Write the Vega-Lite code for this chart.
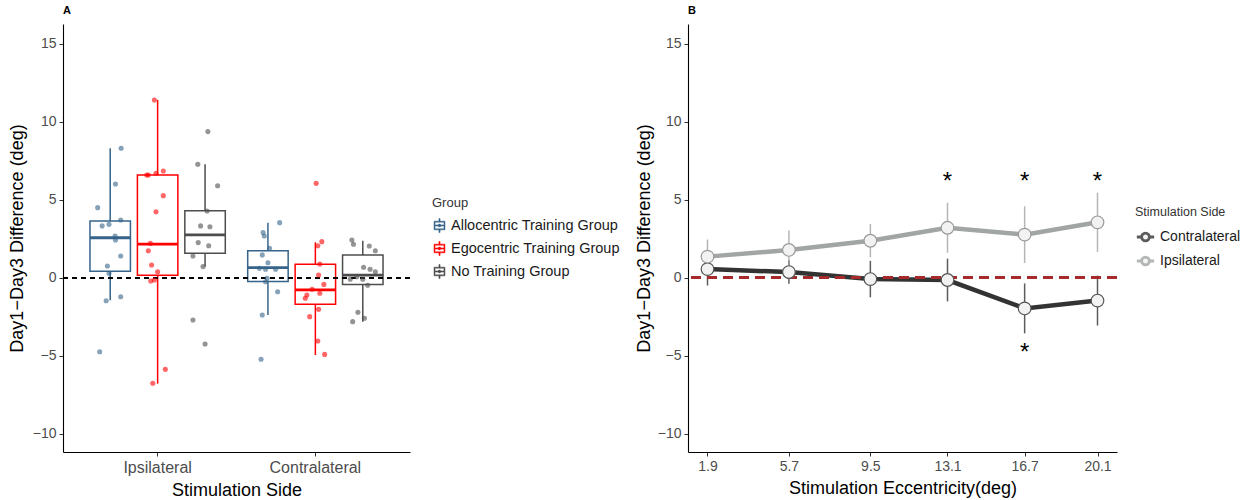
{
  "$schema": "https://vega.github.io/schema/vega-lite/v6.json",
  "background": "white",
  "padding": {"left": 8, "top": 5, "right": 5, "bottom": 5},
  "spacing": 15,
  "config": {
    "font": "Liberation Sans",
    "view": {"stroke": null},
    "axis": {"grid": false, "domainColor": "#000000", "domainWidth": 1.1, "tickColor": "#333333", "tickSize": 4, "labelColor": "#4D4D4D", "labelFontSize": 14, "titleFontSize": 18, "titleFontWeight": "normal", "titleColor": "#000000", "labelPadding": 3, "titlePadding": 6},
    "legend": {"layout": {"right": {"anchor": "middle"}}, "titleFontWeight": "normal", "titleColor": "#333333", "labelColor": "#1A1A1A", "labelFontSize": 14, "titleFontSize": 13, "padding": 0, "labelLimit": 400},
    "title": {"anchor": "start", "frame": "group", "fontSize": 11, "fontWeight": "bold", "offset": 8}
  },
  "datasets": {
    "box": [
      {"side": "Ipsilateral", "group": "Allocentric Training Group", "lower": -1.45, "q1": 0.42, "median": 2.56, "q3": 3.64, "upper": 8.3},
      {"side": "Ipsilateral", "group": "Egocentric Training Group", "lower": -6.8, "q1": 0.15, "median": 2.15, "q3": 6.59, "upper": 11.4},
      {"side": "Ipsilateral", "group": "No Training Group", "lower": 0.71, "q1": 1.56, "median": 2.74, "q3": 4.3, "upper": 7.27},
      {"side": "Contralateral", "group": "Allocentric Training Group", "lower": -2.39, "q1": -0.25, "median": 0.65, "q3": 1.73, "upper": 3.53},
      {"side": "Contralateral", "group": "Egocentric Training Group", "lower": -4.96, "q1": -1.71, "median": -0.78, "q3": 0.86, "upper": 2.27},
      {"side": "Contralateral", "group": "No Training Group", "lower": -2.82, "q1": -0.43, "median": 0.17, "q3": 1.46, "upper": 2.37}
    ],
    "pts": [
      {"side": "Ipsilateral", "group": "Allocentric Training Group", "value": 8.3, "jit": 0.27},
      {"side": "Ipsilateral", "group": "Allocentric Training Group", "value": 6.01, "jit": 0.13},
      {"side": "Ipsilateral", "group": "Allocentric Training Group", "value": 4.49, "jit": -0.31},
      {"side": "Ipsilateral", "group": "Allocentric Training Group", "value": 3.32, "jit": -0.2},
      {"side": "Ipsilateral", "group": "Allocentric Training Group", "value": 3.42, "jit": -0.03},
      {"side": "Ipsilateral", "group": "Allocentric Training Group", "value": 3.7, "jit": 0.26},
      {"side": "Ipsilateral", "group": "Allocentric Training Group", "value": 2.67, "jit": 0.12},
      {"side": "Ipsilateral", "group": "Allocentric Training Group", "value": 2.42, "jit": 0.13},
      {"side": "Ipsilateral", "group": "Allocentric Training Group", "value": 1.39, "jit": 0.26},
      {"side": "Ipsilateral", "group": "Allocentric Training Group", "value": 0.75, "jit": -0.07},
      {"side": "Ipsilateral", "group": "Allocentric Training Group", "value": 0.28, "jit": -0.03},
      {"side": "Ipsilateral", "group": "Allocentric Training Group", "value": -1.48, "jit": -0.1},
      {"side": "Ipsilateral", "group": "Allocentric Training Group", "value": -1.22, "jit": 0.26},
      {"side": "Ipsilateral", "group": "Allocentric Training Group", "value": -4.75, "jit": -0.26},
      {"side": "Ipsilateral", "group": "Egocentric Training Group", "value": 11.4, "jit": -0.08},
      {"side": "Ipsilateral", "group": "Egocentric Training Group", "value": 6.59, "jit": -0.27},
      {"side": "Ipsilateral", "group": "Egocentric Training Group", "value": 6.59, "jit": -0.23},
      {"side": "Ipsilateral", "group": "Egocentric Training Group", "value": 6.7, "jit": -0.04},
      {"side": "Ipsilateral", "group": "Egocentric Training Group", "value": 6.84, "jit": 0.14},
      {"side": "Ipsilateral", "group": "Egocentric Training Group", "value": 5.26, "jit": 0.14},
      {"side": "Ipsilateral", "group": "Egocentric Training Group", "value": 4.23, "jit": -0.04},
      {"side": "Ipsilateral", "group": "Egocentric Training Group", "value": 2.2, "jit": -0.18},
      {"side": "Ipsilateral", "group": "Egocentric Training Group", "value": 1.73, "jit": -0.23},
      {"side": "Ipsilateral", "group": "Egocentric Training Group", "value": 0.81, "jit": -0.15},
      {"side": "Ipsilateral", "group": "Egocentric Training Group", "value": 0.38, "jit": 0},
      {"side": "Ipsilateral", "group": "Egocentric Training Group", "value": -0.21, "jit": -0.17},
      {"side": "Ipsilateral", "group": "Egocentric Training Group", "value": -0.15, "jit": -0.08},
      {"side": "Ipsilateral", "group": "Egocentric Training Group", "value": -5.88, "jit": 0.19},
      {"side": "Ipsilateral", "group": "Egocentric Training Group", "value": -6.77, "jit": -0.12},
      {"side": "Ipsilateral", "group": "No Training Group", "value": 9.37, "jit": 0.07},
      {"side": "Ipsilateral", "group": "No Training Group", "value": 7.27, "jit": -0.18},
      {"side": "Ipsilateral", "group": "No Training Group", "value": 5.9, "jit": 0.31},
      {"side": "Ipsilateral", "group": "No Training Group", "value": 4.28, "jit": 0.05},
      {"side": "Ipsilateral", "group": "No Training Group", "value": 3.32, "jit": -0.11},
      {"side": "Ipsilateral", "group": "No Training Group", "value": 3.27, "jit": 0.12},
      {"side": "Ipsilateral", "group": "No Training Group", "value": 2.25, "jit": -0.17},
      {"side": "Ipsilateral", "group": "No Training Group", "value": 2.05, "jit": 0.09},
      {"side": "Ipsilateral", "group": "No Training Group", "value": 1.39, "jit": -0.3},
      {"side": "Ipsilateral", "group": "No Training Group", "value": 0.71, "jit": -0.05},
      {"side": "Ipsilateral", "group": "No Training Group", "value": -2.71, "jit": -0.3},
      {"side": "Ipsilateral", "group": "No Training Group", "value": -4.25, "jit": 0},
      {"side": "Contralateral", "group": "Allocentric Training Group", "value": 3.53, "jit": 0.29},
      {"side": "Contralateral", "group": "Allocentric Training Group", "value": 2.89, "jit": -0.12},
      {"side": "Contralateral", "group": "Allocentric Training Group", "value": 2.67, "jit": -0.09},
      {"side": "Contralateral", "group": "Allocentric Training Group", "value": 1.89, "jit": 0.04},
      {"side": "Contralateral", "group": "Allocentric Training Group", "value": 1.46, "jit": -0.14},
      {"side": "Contralateral", "group": "Allocentric Training Group", "value": 0.96, "jit": 0},
      {"side": "Contralateral", "group": "Allocentric Training Group", "value": 0.6, "jit": -0.21},
      {"side": "Contralateral", "group": "Allocentric Training Group", "value": 0.54, "jit": -0.06},
      {"side": "Contralateral", "group": "Allocentric Training Group", "value": 0.54, "jit": 0.19},
      {"side": "Contralateral", "group": "Allocentric Training Group", "value": -0.04, "jit": -0.02},
      {"side": "Contralateral", "group": "Allocentric Training Group", "value": -0.26, "jit": -0.06},
      {"side": "Contralateral", "group": "Allocentric Training Group", "value": -0.9, "jit": 0.24},
      {"side": "Contralateral", "group": "Allocentric Training Group", "value": -2.39, "jit": -0.14},
      {"side": "Contralateral", "group": "Allocentric Training Group", "value": -5.23, "jit": -0.17},
      {"side": "Contralateral", "group": "Egocentric Training Group", "value": 6.05, "jit": 0.02},
      {"side": "Contralateral", "group": "Egocentric Training Group", "value": 2.31, "jit": 0.16},
      {"side": "Contralateral", "group": "Egocentric Training Group", "value": 2.05, "jit": 0.06},
      {"side": "Contralateral", "group": "Egocentric Training Group", "value": 0.88, "jit": 0.11},
      {"side": "Contralateral", "group": "Egocentric Training Group", "value": 0.17, "jit": 0.08},
      {"side": "Contralateral", "group": "Egocentric Training Group", "value": -0.43, "jit": 0.21},
      {"side": "Contralateral", "group": "Egocentric Training Group", "value": -0.74, "jit": -0.08},
      {"side": "Contralateral", "group": "Egocentric Training Group", "value": -1.11, "jit": -0.21},
      {"side": "Contralateral", "group": "Egocentric Training Group", "value": -1.32, "jit": -0.25},
      {"side": "Contralateral", "group": "Egocentric Training Group", "value": -1.0, "jit": 0.11},
      {"side": "Contralateral", "group": "Egocentric Training Group", "value": -2.03, "jit": 0.08},
      {"side": "Contralateral", "group": "Egocentric Training Group", "value": -2.5, "jit": -0.14},
      {"side": "Contralateral", "group": "Egocentric Training Group", "value": -4.06, "jit": 0.06},
      {"side": "Contralateral", "group": "Egocentric Training Group", "value": -4.92, "jit": 0.23},
      {"side": "Contralateral", "group": "No Training Group", "value": 2.42, "jit": -0.27},
      {"side": "Contralateral", "group": "No Training Group", "value": 2.14, "jit": -0.23},
      {"side": "Contralateral", "group": "No Training Group", "value": 2.03, "jit": 0.16},
      {"side": "Contralateral", "group": "No Training Group", "value": 1.73, "jit": 0.31},
      {"side": "Contralateral", "group": "No Training Group", "value": 0.67, "jit": 0.02},
      {"side": "Contralateral", "group": "No Training Group", "value": 0.54, "jit": 0.18},
      {"side": "Contralateral", "group": "No Training Group", "value": 0.38, "jit": 0.31},
      {"side": "Contralateral", "group": "No Training Group", "value": -0.1, "jit": -0.31},
      {"side": "Contralateral", "group": "No Training Group", "value": 0.06, "jit": -0.15},
      {"side": "Contralateral", "group": "No Training Group", "value": -0.1, "jit": 0},
      {"side": "Contralateral", "group": "No Training Group", "value": -0.49, "jit": 0.12},
      {"side": "Contralateral", "group": "No Training Group", "value": -2.22, "jit": -0.12},
      {"side": "Contralateral", "group": "No Training Group", "value": -2.82, "jit": -0.25},
      {"side": "Contralateral", "group": "No Training Group", "value": -2.6, "jit": 0.04}
    ],
    "ecc": [
      {"ecc": 1.9, "side": "Contralateral", "mean": 0.55, "se": 1.05},
      {"ecc": 5.7, "side": "Contralateral", "mean": 0.36, "se": 0.75},
      {"ecc": 9.5, "side": "Contralateral", "mean": -0.09, "se": 1.17},
      {"ecc": 13.1, "side": "Contralateral", "mean": -0.15, "se": 1.37},
      {"ecc": 16.7, "side": "Contralateral", "mean": -1.97, "se": 1.6},
      {"ecc": 20.1, "side": "Contralateral", "mean": -1.47, "se": 1.6},
      {"ecc": 1.9, "side": "Ipsilateral", "mean": 1.35, "se": 1.1},
      {"ecc": 5.7, "side": "Ipsilateral", "mean": 1.78, "se": 1.25},
      {"ecc": 9.5, "side": "Ipsilateral", "mean": 2.37, "se": 1.07},
      {"ecc": 13.1, "side": "Ipsilateral", "mean": 3.2, "se": 1.6},
      {"ecc": 16.7, "side": "Ipsilateral", "mean": 2.76, "se": 1.82},
      {"ecc": 20.1, "side": "Ipsilateral", "mean": 3.55, "se": 1.9}
    ],
    "stars": [
      {"ecc": 13.1, "y": 6.55, "label": "*"},
      {"ecc": 16.7, "y": 6.55, "label": "*"},
      {"ecc": 20.1, "y": 6.55, "label": "*"},
      {"ecc": 16.7, "y": -4.45, "label": "*"}
    ]
  },
  "resolve": {"scale": {"color": "independent", "y": "independent", "x": "independent"}, "legend": {"color": "independent"}},
  "hconcat": [
    {
      "width": 347,
      "height": 428,
      "title": {"text": "A"},
      "layer": [
        {
          "data": {"name": "box"},
          "mark": {"type": "bar", "filled": false, "strokeWidth": 1.5},
          "encoding": {
            "x": {"field": "side", "type": "nominal", "sort": ["Ipsilateral", "Contralateral"], "scale": {"paddingInner": 0.1, "paddingOuter": 0.15}, "axis": {"title": "Stimulation Side", "labelAngle": 0, "labelFontSize": 16}},
            "xOffset": {"field": "group", "type": "nominal", "scale": {"paddingInner": 0.147, "paddingOuter": 0.07}},
            "y": {"field": "q1", "type": "quantitative", "scale": {"domain": [-11.18, 16.27], "nice": false, "zero": false}, "axis": {"values": [-10, -5, 0, 5, 10, 15], "title": "Day1\u2212Day3  Difference (deg)"}},
            "y2": {"field": "q3"},
            "color": {"field": "group", "type": "nominal", "scale": {"domain": ["Allocentric Training Group", "Egocentric Training Group", "No Training Group"], "range": ["#36648B", "#FF0000", "#4D4D4D"]},
              "legend": {"title": "Group", "orient": "right", "offset": 22, "symbolType": "M-0.78,-0.62H0.78V0.62H-0.78Z M-0.64,-0.48V-0.08H0.64V-0.48Z M-0.64,0.08V0.48H0.64V0.08Z M-0.08,-1H0.08V-0.62H-0.08Z M-0.08,0.62H0.08V1H-0.08Z M-0.2,0A0.2,0.2,0,1,1,0.2,0A0.2,0.2,0,1,1,-0.2,0Z", "symbolSize": 196, "rowPadding": 6, "titlePadding": 8, "labelFontSize": 14.5, "symbolStrokeWidth": 0.5}}
          }
        },
        {
          "data": {"name": "box"},
          "mark": {"type": "rule", "strokeWidth": 1.5},
          "encoding": {
            "x": {"field": "side", "type": "nominal", "sort": ["Ipsilateral", "Contralateral"]},
            "xOffset": {"field": "group", "type": "nominal", "scale": {"paddingInner": 0.147, "paddingOuter": 0.07}},
            "y": {"field": "q3", "type": "quantitative"},
            "y2": {"field": "upper"},
            "color": {"field": "group", "type": "nominal"}
          }
        },
        {
          "data": {"name": "box"},
          "mark": {"type": "rule", "strokeWidth": 1.5},
          "encoding": {
            "x": {"field": "side", "type": "nominal", "sort": ["Ipsilateral", "Contralateral"]},
            "xOffset": {"field": "group", "type": "nominal", "scale": {"paddingInner": 0.147, "paddingOuter": 0.07}},
            "y": {"field": "lower", "type": "quantitative"},
            "y2": {"field": "q1"},
            "color": {"field": "group", "type": "nominal"}
          }
        },
        {
          "data": {"name": "box"},
          "mark": {"type": "bar", "filled": false, "strokeWidth": 2.8},
          "encoding": {
            "x": {"field": "side", "type": "nominal", "sort": ["Ipsilateral", "Contralateral"]},
            "xOffset": {"field": "group", "type": "nominal", "scale": {"paddingInner": 0.147, "paddingOuter": 0.07}},
            "y": {"field": "median", "type": "quantitative"},
            "y2": {"field": "median"},
            "color": {"field": "group", "type": "nominal"}
          }
        },
        {
          "data": {"name": "box"},
          "mark": {"type": "rule", "color": "#000000", "strokeDash": [5, 4], "strokeWidth": 1.5},
          "encoding": {"y": {"datum": 0, "type": "quantitative"}}
        },
        {
          "data": {"name": "pts"},
          "transform": [{"filter": "datum.group === 'Allocentric Training Group'"}],
          "mark": {"type": "circle", "size": 26, "opacity": 0.6},
          "encoding": {
            "x": {"field": "side", "type": "nominal", "sort": ["Ipsilateral", "Contralateral"]},
            "xOffset": {"field": "jit", "type": "quantitative", "scale": {"domain": [-0.5, 0.5], "range": [3.32, 43.78]}},
            "y": {"field": "value", "type": "quantitative"},
            "color": {"field": "group", "type": "nominal", "legend": null}
          }
        },
        {
          "data": {"name": "pts"},
          "transform": [{"filter": "datum.group === 'Egocentric Training Group'"}],
          "mark": {"type": "circle", "size": 26, "opacity": 0.6},
          "encoding": {
            "x": {"field": "side", "type": "nominal", "sort": ["Ipsilateral", "Contralateral"]},
            "xOffset": {"field": "jit", "type": "quantitative", "scale": {"domain": [-0.5, 0.5], "range": [50.75, 91.21]}},
            "y": {"field": "value", "type": "quantitative"},
            "color": {"field": "group", "type": "nominal", "legend": null}
          }
        },
        {
          "data": {"name": "pts"},
          "transform": [{"filter": "datum.group === 'No Training Group'"}],
          "mark": {"type": "circle", "size": 26, "opacity": 0.6},
          "encoding": {
            "x": {"field": "side", "type": "nominal", "sort": ["Ipsilateral", "Contralateral"]},
            "xOffset": {"field": "jit", "type": "quantitative", "scale": {"domain": [-0.5, 0.5], "range": [98.18, 138.64]}},
            "y": {"field": "value", "type": "quantitative"},
            "color": {"field": "group", "type": "nominal", "legend": null}
          }
        }
      ],
      "resolve": {"scale": {"xOffset": "independent"}}
    },
    {
      "width": 429,
      "height": 428,
      "title": {"text": "B"},
      "layer": [
        {
          "data": {"name": "ecc"},
          "mark": {"type": "errorbar", "thickness": 1.5, "opacity": 0.8},
          "encoding": {
            "x": {"field": "ecc", "type": "quantitative", "scale": {"domain": [0.99, 21.01], "nice": false, "zero": false}, "axis": {"values": [1.9, 5.7, 9.5, 13.1, 16.7, 20.1], "format": ".1f", "title": "Stimulation Eccentricity(deg)"}},
            "y": {"field": "mean", "type": "quantitative", "scale": {"domain": [-11.18, 16.27], "nice": false, "zero": false}, "axis": {"values": [-10, -5, 0, 5, 10, 15], "title": "Day1\u2212Day3 Difference (deg)", "titlePadding": 4}},
            "yError": {"field": "se"},
            "color": {"field": "side", "type": "nominal", "scale": {"domain": ["Contralateral", "Ipsilateral"], "range": ["#333333", "#A1A5A3"]},
              "legend": {"title": "Stimulation Side", "titleFontSize": 12.5, "orient": "right", "offset": 18, "symbolType": "M-1,0H-0.45M0.45,0H1M0.45,0A0.45,0.45,0,1,1,-0.45,0A0.45,0.45,0,1,1,0.45,0", "symbolSize": 300, "rowPadding": 4, "titlePadding": 8, "symbolFillColor": "#F2F2F2", "symbolStrokeWidth": 2.8}}
          }
        },
        {
          "data": {"name": "ecc"},
          "mark": {"type": "line", "strokeWidth": 4.5},
          "encoding": {
            "x": {"field": "ecc", "type": "quantitative"},
            "y": {"field": "mean", "type": "quantitative"},
            "color": {"field": "side", "type": "nominal"}
          }
        },
        {
          "data": {"name": "ecc"},
          "mark": {"type": "rule", "color": "#A52A2A", "strokeDash": [10, 6], "strokeWidth": 2.5},
          "encoding": {"y": {"datum": 0, "type": "quantitative"}}
        },
        {
          "data": {"name": "ecc"},
          "mark": {"type": "point", "filled": true, "fill": "#F2F2F2", "size": 160, "strokeWidth": 1.2, "opacity": 1},
          "encoding": {
            "x": {"field": "ecc", "type": "quantitative"},
            "y": {"field": "mean", "type": "quantitative"},
            "stroke": {"field": "side", "type": "nominal", "scale": {"domain": ["Contralateral", "Ipsilateral"], "range": ["#555555", "#9A9A9A"]}, "legend": null}
          }
        },
        {
          "data": {"name": "stars"},
          "mark": {"type": "text", "fontSize": 24, "baseline": "middle", "align": "center", "dy": 6, "color": "#000000"},
          "encoding": {
            "x": {"field": "ecc", "type": "quantitative"},
            "y": {"field": "y", "type": "quantitative"},
            "text": {"field": "label"}
          }
        }
      ]
    }
  ]
}
